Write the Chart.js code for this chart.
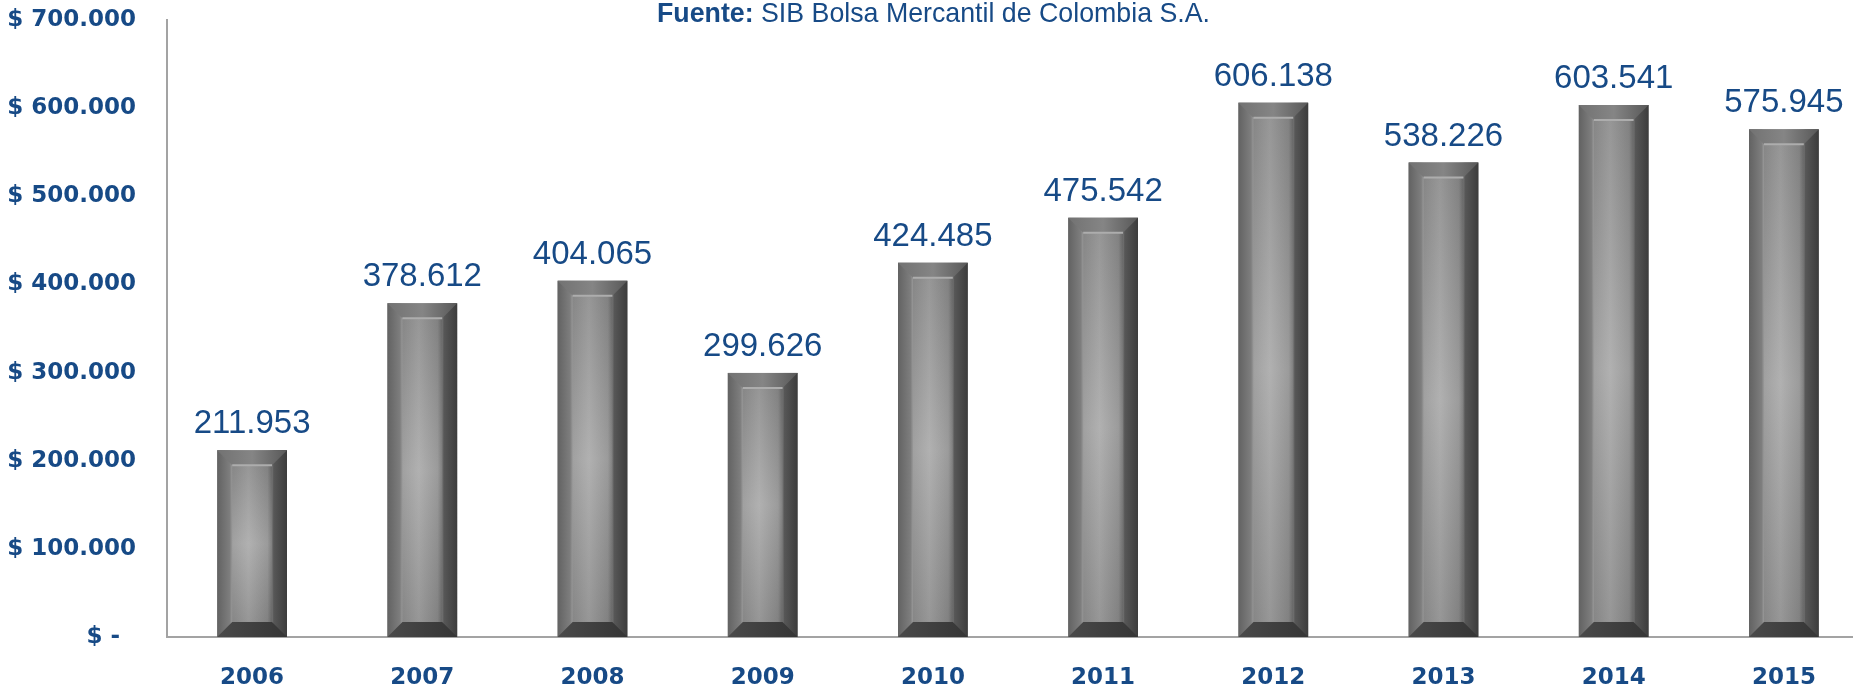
<!DOCTYPE html>
<html>
<head>
<meta charset="utf-8">
<script src="https://cdn.jsdelivr.net/npm/chart.js@4"></script>
<style>
html,body{margin:0;padding:0;background:#fff;overflow:hidden;width:1853px;height:691px}
canvas{display:block}
</style>
</head>
<body>
<canvas id="salesChart" width="1880" height="691"></canvas>
<script>

// data

const years = ['2006','2007','2008','2009','2010','2011','2012','2013','2014','2015']
const values = [211953,378612,404065,299626,424485,475542,606138,538226,603541,575945]
const yTickLabels = ['$ -  ','$ 100.000','$ 200.000','$ 300.000','$ 400.000','$ 500.000','$ 600.000','$ 700.000']
const sourceBold = 'Fuente:'
const sourceText = ' SIB Bolsa Mercantil de Colombia S.A.'

const blue = '#174a86'
const axisGray = '#a3a3a3'

const fmt = v => v.toString().replace(/\B(?=(\d{3})+(?!\d))/g,'.')


// beveled gray bars

const bevelBars = {
id:'bevelBars',
afterDatasetsDraw(chart){
const ctx = chart.ctx
chart.getDatasetMeta(0).data.forEach(bar=>{
const {x,y,base,width} = bar.getProps(['x','y','base','width'],true)
const l = x-width/2, r = x+width/2, t = y, b = base, h = b-t
const s = Math.min(15,width/4,h/2)
ctx.save()

let g = ctx.createLinearGradient(l,0,r,0)
g.addColorStop(0,'#626262')
g.addColorStop(0.18,'#7e7e7e')
g.addColorStop(0.21,'#959595')
g.addColorStop(0.45,'#a8a8a8')
g.addColorStop(0.72,'#909090')
g.addColorStop(0.79,'#6e6e6e')
g.addColorStop(0.81,'#575757')
g.addColorStop(1,'#3c3c3c')
ctx.fillStyle = g
ctx.fillRect(l,t,width,h)

let v = ctx.createLinearGradient(0,t+s,0,b-s)
v.addColorStop(0,'rgba(0,0,0,0.10)')
v.addColorStop(0.5,'rgba(255,255,255,0.10)')
v.addColorStop(1,'rgba(0,0,0,0.10)')
ctx.fillStyle = v
ctx.fillRect(l+s,t+s,width-2*s,h-2*s)

// top bevel
let tg = ctx.createLinearGradient(l,0,r,0)
tg.addColorStop(0,'#727272')
tg.addColorStop(0.5,'#858585')
tg.addColorStop(1,'#585858')
ctx.fillStyle = tg
ctx.beginPath()
ctx.moveTo(l,t); ctx.lineTo(r,t); ctx.lineTo(r-s,t+s); ctx.lineTo(l+s,t+s); ctx.closePath()
ctx.fill()
ctx.strokeStyle = '#adadad'
ctx.lineWidth = 2
ctx.beginPath()
ctx.moveTo(l+s,t+s); ctx.lineTo(r-s,t+s)
ctx.stroke()

// bottom bevel
let bg = ctx.createLinearGradient(l,0,r,0)
bg.addColorStop(0,'#4a4a4a')
bg.addColorStop(1,'#353535')
ctx.fillStyle = bg
ctx.beginPath()
ctx.moveTo(l,b); ctx.lineTo(r,b); ctx.lineTo(r-s,b-s); ctx.lineTo(l+s,b-s); ctx.closePath()
ctx.fill()

ctx.restore()
})
}
}


// value labels above bars

const valueLabels = {
id:'valueLabels',
afterDatasetsDraw(chart){
const ctx = chart.ctx
ctx.save()
ctx.font = '33px "Liberation Sans"'
ctx.fillStyle = blue
ctx.textAlign = 'center'
ctx.textBaseline = 'alphabetic'
chart.getDatasetMeta(0).data.forEach((bar,i)=>{
ctx.fillText(fmt(values[i]),bar.x,bar.y-17)
})
ctx.restore()
}
}


// source line at the top

const sourceTitle = {
id:'sourceTitle',
afterDraw(chart){
const ctx = chart.ctx
const fam = '"Liberation Sans Narrow","Liberation Sans",sans-serif'
ctx.save()
ctx.fillStyle = blue
ctx.textBaseline = 'alphabetic'
ctx.font = 'bold 28px '+fam
const w1 = ctx.measureText(sourceBold).width
ctx.font = '28px '+fam
const w2 = ctx.measureText(sourceText).width
const k = 553/(w1+w2)
ctx.translate(657,22)
ctx.scale(k,1)
ctx.font = 'bold 28px '+fam
ctx.fillText(sourceBold,0,0)
ctx.font = '28px '+fam
ctx.fillText(sourceText,w1,0)
ctx.restore()
}
}


// CHART

const axisFont = {family:'DejaVu Sans',size:23,weight:'bold'}

const salesChart = new Chart(

document.getElementById('salesChart'),

{
type:'bar',

data:{
labels:years,
datasets:[{
data:values,
backgroundColor:'#8c8c8c',
barPercentage:0.41,
categoryPercentage:1
}]
},

options:{
responsive:false,
animation:false,
layout:{padding:{top:20,right:11,left:0,bottom:0}},
plugins:{legend:{display:false},tooltip:{enabled:false}},
scales:{
x:{
grid:{display:false,drawTicks:true,tickLength:27},
border:{display:true,color:axisGray,width:2},
ticks:{color:blue,font:axisFont,padding:0},
afterFit(scale){scale.height = 54}
},
y:{
min:0,
max:700000,
grid:{display:false,drawTicks:true,tickLength:31},
border:{display:true,color:axisGray,width:2},
ticks:{
stepSize:100000,
color:blue,
font:axisFont,
padding:0,
callback:(v,i)=>yTickLabels[i]
},
afterFit(scale){scale.width = 167}
}
}
},

plugins:[bevelBars,valueLabels,sourceTitle]

}
)

</script>
</body>
</html>
